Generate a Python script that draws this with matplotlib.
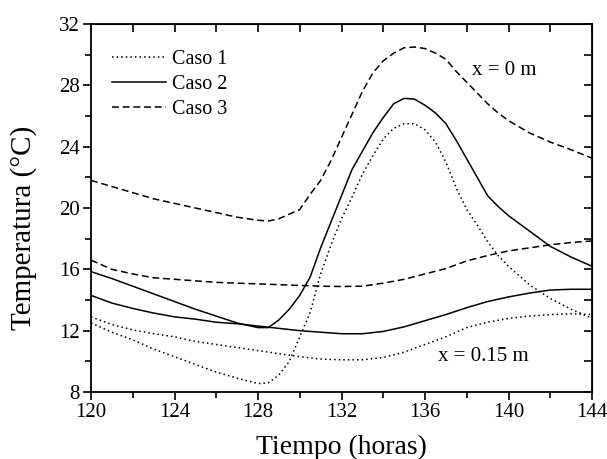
import matplotlib
matplotlib.use("Agg")
import matplotlib.pyplot as plt
import numpy as np

# ---------------- data ----------------
t_hourly = [120, 121, 122, 123, 124, 125, 126, 127, 128, 129, 130, 131, 132,
            133, 134, 135, 136, 137, 138, 139, 140, 141, 142, 143, 144]

t_x0 = [120, 121, 122, 123, 124, 125, 126, 127, 128, 128.5, 129, 129.5, 130,
        130.5, 131, 131.5, 132, 132.5, 133, 133.5, 134, 134.5, 135, 135.5,
        136, 136.5, 137, 137.5, 138, 138.5, 139, 139.5, 140, 141, 142, 143, 144]

caso1_x0 = [12.5, 11.9, 11.4, 10.8, 10.3, 9.8, 9.3, 8.9, 8.55, 8.6, 9.1, 10.0, 11.6,
            13.2, 15.7, 17.6, 19.3, 20.7, 22.2, 23.4, 24.5, 25.2, 25.5, 25.5,
            25.1, 24.3, 23.0, 21.3, 19.9, 18.9, 17.8, 16.9, 16.2, 15.0, 14.1, 13.4, 12.8]

caso2_x0 = [15.85, 15.4, 14.9, 14.4, 13.9, 13.4, 12.95, 12.5, 12.2, 12.2, 12.7, 13.4, 14.3,
            15.5, 17.4, 19.1, 20.8, 22.5, 23.7, 24.9, 25.9, 26.8, 27.15, 27.1,
            26.7, 26.2, 25.5, 24.4, 23.2, 22.0, 20.8, 20.1, 19.5, 18.5, 17.5, 16.8, 16.2]

caso3_x0 = [21.8, 21.4, 21.0, 20.6, 20.3, 20.0, 19.7, 19.4, 19.2, 19.15, 19.3, 19.6, 19.9,
            20.9, 21.8, 23.1, 24.6, 26.1, 27.6, 28.8, 29.6, 30.1, 30.45, 30.5,
            30.4, 30.1, 29.7, 28.9, 28.2, 27.5, 26.8, 26.2, 25.7, 24.9, 24.3, 23.8, 23.25]

caso1_x015 = [12.9, 12.4, 12.05, 11.8, 11.6, 11.3, 11.1, 10.9, 10.7, 10.5, 10.3, 10.15, 10.1,
              10.1, 10.25, 10.6, 11.1, 11.6, 12.2, 12.55, 12.8, 12.95, 13.05, 13.1, 13.05]

caso2_x015 = [14.3, 13.8, 13.45, 13.15, 12.9, 12.75, 12.55, 12.45, 12.3, 12.15, 12.0, 11.9, 11.8,
              11.8, 11.95, 12.25, 12.65, 13.05, 13.5, 13.9, 14.2, 14.45, 14.65, 14.7, 14.7]

caso3_x015 = [16.6, 16.0, 15.7, 15.45, 15.35, 15.25, 15.15, 15.1, 15.05, 15.0, 14.95, 14.9, 14.88,
              14.9, 15.1, 15.35, 15.7, 16.05, 16.55, 16.9, 17.2, 17.4, 17.6, 17.75, 17.85]

labels = ["Caso 1", "Caso 2", "Caso 3"]
x_ticks = [120, 124, 128, 132, 136, 140, 144]
y_ticks = [8, 12, 16, 20, 24, 28, 32]

# ---------------- styling ----------------
plt.rcParams['font.family'] = ['Liberation Serif', 'DejaVu Serif']

fig = plt.figure(figsize=(6.07, 4.59), dpi=100)
ax = fig.add_axes([91/607, 1-392/459, (592-91)/607, (392-24)/459])

lw = 1.1
styles = [(0, (1, 2)), '-', (0, (4.5, 2.5))]
series_x0 = [caso1_x0, caso2_x0, caso3_x0]
series_x015 = [caso1_x015, caso2_x015, caso3_x015]

for lab, st, s0, s1 in zip(labels, styles, series_x0, series_x015):
    ax.plot(t_x0, s0, color='black', lw=lw, linestyle=st, label=lab)
    ax.plot(t_hourly, s1, color='black', lw=lw, linestyle=st)

ax.set_xlim(120, 144)
ax.set_ylim(8, 32)
ax.set_xticks(x_ticks)
ax.set_yticks(y_ticks)
ax.set_xticks(np.arange(120, 145, 2), minor=True)
ax.set_yticks(np.arange(8, 33, 2), minor=True)
ax.tick_params(axis='both', which='major', direction='out', length=6, width=1.2,
               labelsize=15, pad=2)
ax.tick_params(axis='both', which='minor', direction='out', length=4, width=1.2)
for sp in ax.spines.values():
    sp.set_linewidth(1.3)

top = ax.secondary_xaxis('top')
top.set_xticks(np.arange(120, 145, 2))
top.tick_params(direction='in', length=6, width=1.2, labeltop=False)
top.set_xticklabels([])
right = ax.secondary_yaxis('right')
right.set_yticks(np.arange(8, 33, 2))
right.tick_params(direction='in', length=6, width=1.2, labelright=False)
right.set_yticklabels([])

ax.set_xlabel("Tiempo (horas)", fontsize=20, labelpad=9)
ax.set_ylabel("Temperatura (\u00b0C)", fontsize=21)
ax.yaxis.set_label_coords(-0.108, 0.445)

ax.text(138.25, 29.0, "x = 0 m", fontsize=15, ha='left', va='center')
ax.text(136.6, 10.3, "x = 0.15 m", fontsize=15, ha='left', va='center')

leg = ax.legend(loc='upper left', bbox_to_anchor=(0.042, 0.93), frameon=False,
                fontsize=14.5, handlelength=2.7, handletextpad=0.3,
                labelspacing=0.3, borderpad=0, borderaxespad=0)

fig.savefig("out.png", dpi=100)
